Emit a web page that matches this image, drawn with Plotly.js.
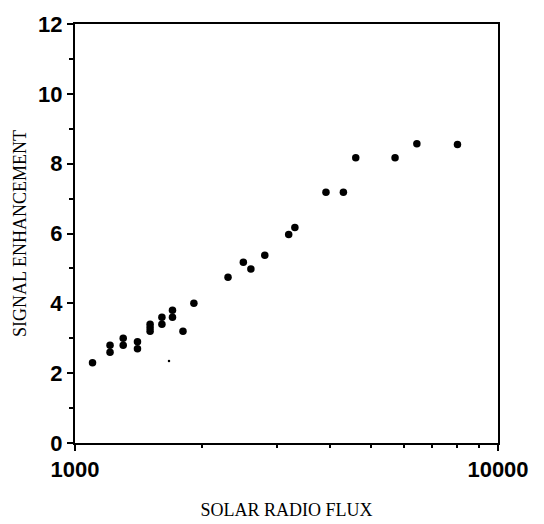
<!DOCTYPE html>
<html>
<head>
<meta charset="utf-8">
<script src="https://cdn.plot.ly/plotly-3.0.1.min.js"></script>
<style>html,body{margin:0;padding:0;background:#fff;}#chart{width:544px;height:524px;}</style>
</head>
<body>
<div id="chart"></div>
<script>
// Solar radio flux (x, log scale) vs signal enhancement (y)
const solarFlux = [1100, 1210, 1210, 1300, 1300, 1405, 1405, 1505, 1505, 1505, 1605, 1605, 1700, 1700, 1800, 1910, 2300, 2500, 2605, 2810, 3200, 3310, 3920, 4310, 4610, 5710, 6430, 8020];
const enhancement = [2.3, 2.8, 2.6, 3.0, 2.8, 2.9, 2.7, 3.4, 3.3, 3.2, 3.6, 3.4, 3.8, 3.6, 3.2, 4.0, 4.75, 5.18, 4.98, 5.38, 5.97, 6.17, 7.18, 7.18, 8.17, 8.17, 8.57, 8.55];
// stray speck in the scan
const speckFlux = [1668];
const speckY = [2.35];

const xTickVals = [1000, 10000];
const xTickText = ['1000', '10000'];
const xMinorVals = [2000, 3000, 4000, 5000, 6000, 7000, 8000, 9000];
const yTickVals = [0, 2, 4, 6, 8, 10, 12];
const yTickText = ['0', '2', '4', '6', '8', '10', '12'];
const yMinorVals = [1, 3, 5, 7, 9, 11];

const bold = s => '<b>' + s + '</b>';

const traces = [
  {x: solarFlux, y: enhancement, type: 'scatter', mode: 'markers',
   marker: {color: '#000', size: 7.5}, hoverinfo: 'x+y', showlegend: false},
  {x: speckFlux, y: speckY, type: 'scatter', mode: 'markers',
   marker: {color: '#000', size: 2.5}, hoverinfo: 'skip', showlegend: false}
];

const tickFont = {family: 'Liberation Sans', size: 22, color: '#000'};
const titleFont = {family: 'Liberation Serif', size: 18, color: '#000'};

const layout = {
  width: 544, height: 524,
  margin: {l: 75, r: 46, t: 24, b: 81},
  paper_bgcolor: '#fff', plot_bgcolor: '#fff',
  showlegend: false,
  xaxis: {
    type: 'log', range: [3, 4],
    tickmode: 'array', tickvals: xTickVals, ticktext: xTickText.map(bold),
    ticks: 'outside', ticklen: 6, tickwidth: 2, tickcolor: '#000',
    minor: {tickmode: 'array', tickvals: xMinorVals, ticks: 'outside', ticklen: 3, tickwidth: 2, tickcolor: '#000', showgrid: false},
    showline: true, linecolor: '#000', linewidth: 2, mirror: true,
    showgrid: false, zeroline: false,
    tickfont: tickFont,
    title: {text: 'SOLAR RADIO FLUX', font: titleFont, standoff: 22}
  },
  yaxis: {
    range: [0, 12],
    tickmode: 'array', tickvals: yTickVals, ticktext: yTickText.map(bold),
    ticks: 'outside', ticklen: 6, tickwidth: 2, tickcolor: '#000',
    minor: {tickmode: 'array', tickvals: yMinorVals, ticks: 'outside', ticklen: 4, tickwidth: 2, tickcolor: '#000', showgrid: false},
    showline: true, linecolor: '#000', linewidth: 2, mirror: true,
    showgrid: false, zeroline: false,
    tickfont: tickFont,
    title: {text: 'SIGNAL ENHANCEMENT', font: titleFont, standoff: 7}
  }
};

Plotly.newPlot('chart', traces, layout, {displayModeBar: false, staticPlot: true});
</script>
</body>
</html>
